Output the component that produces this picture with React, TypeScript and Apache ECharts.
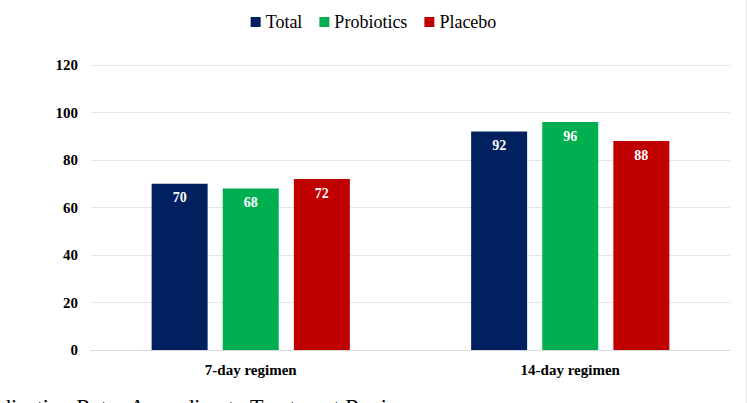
import React, { useEffect, useRef } from "react";
import * as echarts from "echarts";

const categories = ["7-day regimen", "14-day regimen"];
const totalValues = [70, 92];
const probioticsValues = [68, 96];
const placeboValues = [72, 88];
const seriesNames = ["Total", "Probiotics", "Placebo"];
const yTicks = { min: 0, max: 120, interval: 20 };
const captionText = "dication Rates According to Treatment Regimen";

const FONT = "Liberation Serif";

export default function App() {
  const ref = useRef<HTMLDivElement>(null);
  useEffect(() => {
    if (!ref.current) return;
    const chart = echarts.init(ref.current, null, { renderer: "svg" });
    const label = {
      show: true,
      position: "insideTop" as const,
      distance: 7,
      color: "#ffffff",
      fontFamily: FONT,
      fontWeight: "bold" as const,
      fontSize: 14,
    };
    const colors = ["#002060", "#00B050", "#C00000"];
    const data = [totalValues, probioticsValues, placeboValues];
    chart.setOption({
      animation: false,
      backgroundColor: "#ffffff",
      textStyle: { fontFamily: FONT },
      legend: {
        top: 8,
        left: "center",
        itemWidth: 10,
        itemHeight: 10,
        itemGap: 17,
        icon: "rect",
        textStyle: { fontFamily: FONT, fontSize: 18, color: "#000000" },
        data: seriesNames,
      },
      grid: { left: 91, right: 17, top: 65, bottom: 53, containLabel: false },
      xAxis: {
        type: "category",
        data: categories,
        axisTick: { show: false },
        axisLine: { lineStyle: { color: "#d9d9d9" } },
        axisLabel: {
          fontFamily: FONT,
          fontWeight: "bold",
          fontSize: 15,
          color: "#000000",
          margin: 12,
        },
      },
      yAxis: {
        type: "value",
        min: yTicks.min,
        max: yTicks.max,
        interval: yTicks.interval,
        axisLine: { show: false },
        axisTick: { show: false },
        splitLine: { lineStyle: { color: "#e6e6e6" } },
        axisLabel: {
          fontFamily: FONT,
          fontWeight: "bold",
          fontSize: 15,
          color: "#000000",
          margin: 13,
        },
      },
      series: seriesNames.map((name, i) => ({
        name,
        type: "bar",
        data: data[i],
        barWidth: 56,
        barGap: "27%",
        itemStyle: { color: colors[i] },
        label,
      })),
      graphic: [
        {
          type: "text",
          left: 0,
          top: 395,
          style: {
            text: captionText,
            fontFamily: FONT,
            fontSize: 22,
            fill: "#000000",
          },
        },
        {
          type: "line",
          shape: { x1: 746.5, y1: 0, x2: 746.5, y2: 403 },
          style: { stroke: "#e6e6e6", lineWidth: 1 },
        },
      ],
    });
    return () => chart.dispose();
  }, []);
  return (
    <div
      ref={ref}
      style={{ position: "absolute", left: 0, top: 0, width: 747, height: 403 }}
    />
  );
}
